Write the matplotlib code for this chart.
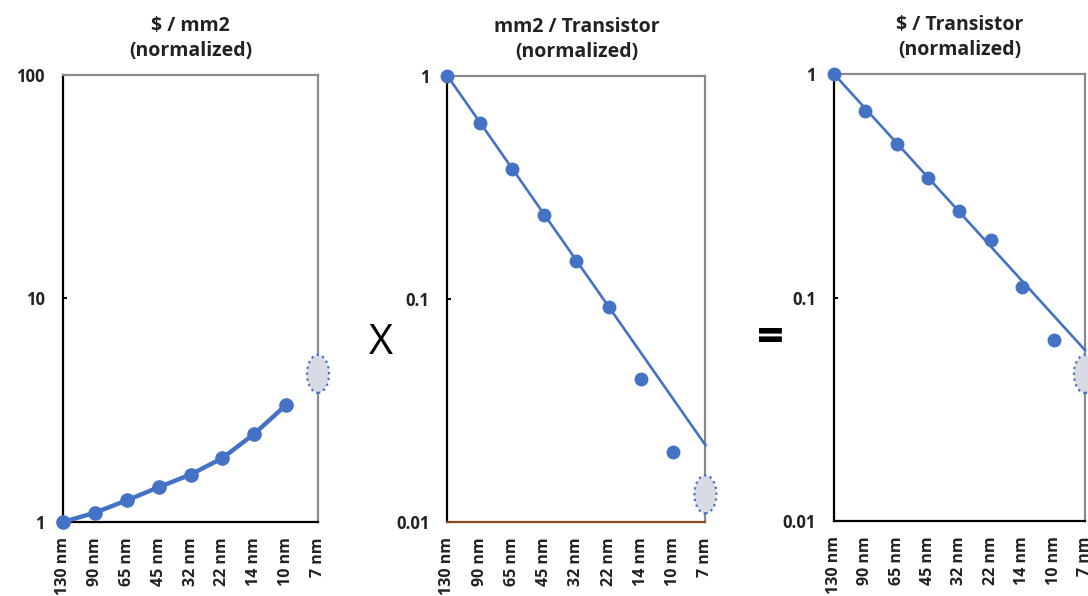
import matplotlib.pyplot as plt
import numpy as np
from matplotlib.patches import Ellipse
from matplotlib.transforms import ScaledTranslation

plt.rcParams['font.family'] = ['Open Sans', 'DejaVu Sans']

nodes = ["130 nm", "90 nm", "65 nm", "45 nm", "32 nm", "22 nm", "14 nm", "10 nm", "7 nm"]

# $ / mm2 (normalized), 130nm .. 10nm, 7nm is an estimate (ellipse)
cost_area = [1.0, 1.10, 1.25, 1.43, 1.63, 1.93, 2.48, 3.34]
cost_area_7 = 4.6

# mm2 / transistor (normalized)
area_tr = [1.0, 0.618, 0.384, 0.238, 0.148, 0.092, 0.0436, 0.0207]
area_tr_trend = [1.0, 0.0221]
area_tr_7 = 0.0133

# $ / transistor (normalized)
cost_tr = [1.0, 0.685, 0.486, 0.344, 0.245, 0.180, 0.111, 0.0645]
cost_tr_trend = [1.0, 0.0582]
cost_tr_7 = 0.0455

blue = '#4472c4'

fig = plt.figure(figsize=(10.88, 5.96), dpi=100)
ax1 = fig.add_axes([0.0579, 0.1242, 0.2344, 0.7500])
ax2 = fig.add_axes([0.4113, 0.1242, 0.2371, 0.7483])
ax3 = fig.add_axes([0.7665, 0.1258, 0.2307, 0.7500])


def style(ax, title, ylim, yt, ylabels, bottom_color='black'):
    ax.set_yscale('log')
    ax.set_ylim(*ylim)
    ax.set_xlim(0, len(nodes) - 1)
    ax.set_xticks(range(len(nodes)))
    ax.set_xticklabels(nodes, rotation=90, fontsize=11.5, fontweight='bold', color='#222222')
    ax.set_yticks(yt)
    ax.set_yticklabels(ylabels, fontsize=12, fontweight='bold', color='#222222')
    ax.minorticks_off()
    ax.tick_params(axis='x', length=0, pad=11)
    ax.tick_params(axis='y', length=3, direction='in', width=1.5, pad=13)
    ax.spines['left'].set_color('black')
    ax.spines['left'].set_linewidth(1.6)
    ax.spines['bottom'].set_color(bottom_color)
    ax.spines['bottom'].set_linewidth(1.6)
    for s in ['top', 'right']:
        ax.spines[s].set_color('#8a8a8a')
        ax.spines[s].set_linewidth(1.6)
    ax.set_title(title, fontsize=14, fontweight='bold', color='#222222',
                 linespacing=1.3, pad=14)


def estimate(ax, val):
    tr = fig.dpi_scale_trans + ScaledTranslation(len(nodes) - 1, val, ax.transData)
    e = Ellipse((0, 0), 0.22, 0.38, transform=tr, facecolor='#d8dbe3',
                edgecolor=blue, linestyle=':', linewidth=1.6, clip_on=False, zorder=5)
    ax.add_patch(e)


x = np.arange(len(nodes))

style(ax1, "$ / mm2\n(normalized)", (1, 100), [1, 10, 100], ["1", "10", "100"])
ax1.plot(x[:8], cost_area, color=blue, lw=3.2, marker='o', ms=9.5, clip_on=False, zorder=4)
estimate(ax1, cost_area_7)

style(ax2, "mm2 / Transistor\n(normalized)", (0.01, 1), [0.01, 0.1, 1], ["0.01", "0.1", "1"],
      bottom_color='#8c4a1c')
ax2.plot([0, 8], area_tr_trend, color=blue, lw=1.9, clip_on=False, zorder=3)
ax2.plot(x[:8], area_tr, color=blue, ls='none', marker='o', ms=9, clip_on=False, zorder=4)
estimate(ax2, area_tr_7)

style(ax3, "$ / Transistor\n(normalized)", (0.01, 1), [0.01, 0.1, 1], ["0.01", "0.1", "1"])
ax3.plot([0, 8], cost_tr_trend, color=blue, lw=1.9, clip_on=False, zorder=3)
ax3.plot(x[:8], cost_tr, color=blue, ls='none', marker='o', ms=9, clip_on=False, zorder=4)
estimate(ax3, cost_tr_7)

fig.text(381 / 1088, 1 - 343 / 596, "X", fontsize=30, ha='center', va='center', color='black')
fig.text(770 / 1088, 1 - 340 / 596, "=", fontsize=34, fontweight='bold', ha='center', va='center',
         color='black')

fig.savefig('out.png', dpi=100)
